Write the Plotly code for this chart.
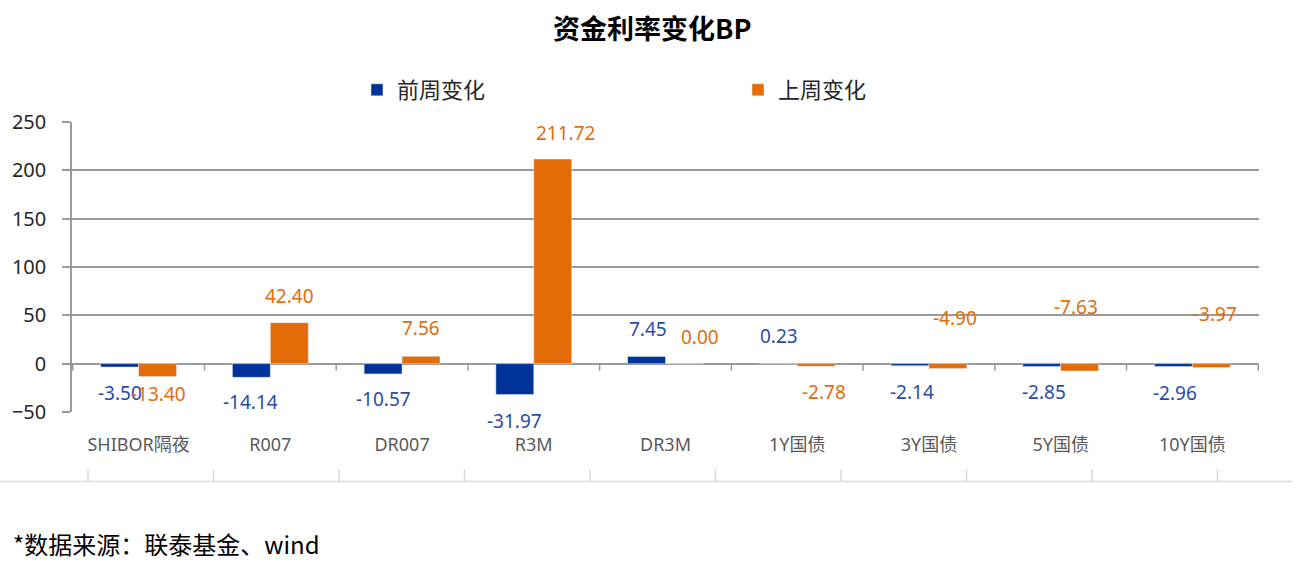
import plotly.graph_objects as go

# ---- data ----
categories = ["SHIBOR隔夜", "R007", "DR007", "R3M", "DR3M", "1Y国债", "3Y国债", "5Y国债", "10Y国债"]
prev_week = [-3.50, -14.14, -10.57, -31.97, 7.45, 0.23, -2.14, -2.85, -2.96]
last_week = [-13.40, 42.40, 7.56, 211.72, 0.00, -2.78, -4.90, -7.63, -3.97]
series_names = ["前周变化", "上周变化"]
y_ticks = [-50, 0, 50, 100, 150, 200, 250]

# label placement tweaks (pixels, relative to bar end / category centre)
prev_label_dx = [-19, -20, -19, -19, -18, -18, -17, -17, -17]
prev_label_dy = [-26, -25, -25, -26, 27, 27, -26, -26, -26]
last_label_dx = [20, 19, 19, 32, 34, 27, 26, 15, 23]
last_label_dy = [-17, 27, 28, 26, 27, -26, 50, 64, 54]

BLUE = "#003399"
ORANGE = "#E36C09"
BLUE_TXT = "#2B4BA6"
ORANGE_TXT = "#E46C0A"
GRID = "#9a9a9a"
FONT = "Noto Sans, Noto Sans CJK SC, sans-serif"
CJK = "Noto Sans CJK SC, sans-serif"

W, H = 1300, 573
L, R, T, B = 72, 41, 122, 161


def px_x(p):
    return (p - L) / (W - L - R)


def px_y(p):
    return 1 - (p - T) / (H - T - B)


fig = go.Figure()
fig.add_trace(go.Bar(x=categories, y=prev_week, name=series_names[0], marker_color=BLUE))
fig.add_trace(go.Bar(x=categories, y=last_week, name=series_names[1], marker_color=ORANGE))

ann = []
for i, c in enumerate(categories):
    ann.append(dict(x=c, y=prev_week[i], xref="x", yref="y", text=f"{prev_week[i]:.2f}",
                    showarrow=False, xshift=prev_label_dx[i], yshift=prev_label_dy[i],
                    font=dict(family=FONT, size=19, color=BLUE_TXT)))
    ann.append(dict(x=c, y=last_week[i], xref="x", yref="y", text=f"{last_week[i]:.2f}",
                    showarrow=False, xshift=last_label_dx[i], yshift=last_label_dy[i],
                    font=dict(family=FONT, size=19, color=ORANGE_TXT)))

ann.append(dict(x=px_x(652), y=px_y(27), xref="paper", yref="paper", text="<b>资金利率变化BP</b>",
                showarrow=False, xanchor="center", yanchor="middle",
                font=dict(family=CJK, size=27, color="#000000")))
ann.append(dict(x=px_x(11), y=px_y(543), xref="paper", yref="paper", text="*数据来源：联泰基金、wind",
                showarrow=False, xanchor="left", yanchor="middle",
                font=dict(family=CJK, size=24, color="#000000")))

shapes = []
# small ticks on zero line at category boundaries
for i in range(len(categories) + 1):
    shapes.append(dict(type="line", xref="x", yref="y", x0=i - 0.5, x1=i - 0.5,
                       ysizemode="pixel", yanchor=0, y0=0, y1=-7,
                       line=dict(color=GRID, width=1.5)))
# decorative bottom rule with ticks
shapes.append(dict(type="line", xref="paper", yref="paper", x0=px_x(0), x1=px_x(1292),
                   y0=px_y(481.5), y1=px_y(481.5), line=dict(color="#d9d9d9", width=1.5)))
for k in range(10):
    xp = 88 + 125.5 * k
    shapes.append(dict(type="line", xref="paper", yref="paper", x0=px_x(xp), x1=px_x(xp),
                       y0=px_y(469), y1=px_y(481.5), line=dict(color="#d9d9d9", width=1.5)))

fig.update_layout(
    width=W, height=H,
    margin=dict(l=L, r=R, t=T, b=B, pad=0, autoexpand=False),
    paper_bgcolor="white", plot_bgcolor="white",
    barmode="group", bargap=0.424, bargroupgap=0,
    showlegend=True,
    legend=dict(orientation="h", xref="container", yref="container",
                x=357 / W, y=1 - 90 / H, xanchor="left", yanchor="middle",
                entrywidth=336, entrywidthmode="pixels", valign="top",
                font=dict(family=CJK, size=22, color="#262626"), traceorder="normal"),
    annotations=ann, shapes=shapes,
    xaxis=dict(type="category", showgrid=False, showline=False, ticks="",
               tickfont=dict(family=FONT, size=18, color="#595959"), ticklabelstandoff=20),
    yaxis=dict(range=[-50, 250], tickvals=y_ticks, showgrid=True, gridcolor=GRID, gridwidth=1.5,
               zeroline=True, zerolinecolor=GRID, zerolinewidth=1.5,
               showline=True, linecolor=GRID, linewidth=1.5,
               ticks="outside", ticklen=8, tickcolor=GRID, tickwidth=1.5,
               tickfont=dict(family=FONT, size=20, color="#262626"), ticklabelstandoff=12),
)

fig.write_html("out.html")
